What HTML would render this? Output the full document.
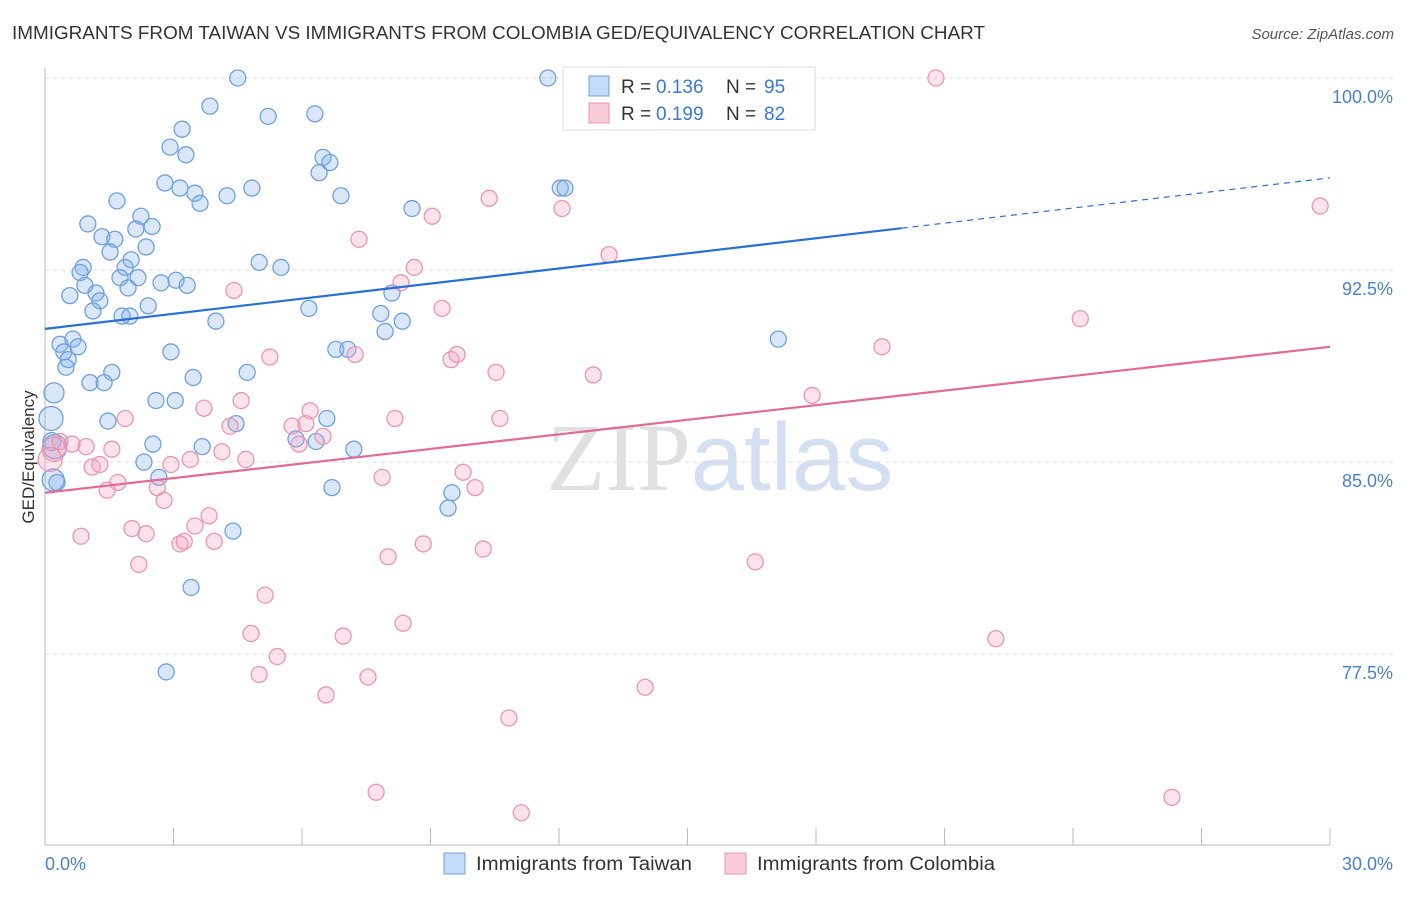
<!DOCTYPE html>
<html><head><meta charset="utf-8"><style>
body{margin:0;background:#fff;font-family:"Liberation Sans",sans-serif;}
svg text{font-family:"Liberation Sans",sans-serif;}
</style></head><body>
<svg id="chart" width="1406" height="892" xmlns="http://www.w3.org/2000/svg">
<text x="12" y="39" font-size="18" fill="#333" textLength="973" lengthAdjust="spacingAndGlyphs">IMMIGRANTS FROM TAIWAN VS IMMIGRANTS FROM COLOMBIA GED/EQUIVALENCY CORRELATION CHART</text>
<text x="1394" y="39" font-size="15" fill="#555" text-anchor="end" font-style="italic">Source: ZipAtlas.com</text>
<text x="720" y="490" font-size="96" text-anchor="middle" fill="#ddd" opacity="0.6"><tspan font-family="Liberation Serif" fill="#ccc">ZIP</tspan><tspan fill="#b8cdea">atlas</tspan></text>
<g id="grid"></g>
<g id="axes"></g>
<g id="points"></g>
<g id="lines"></g>
<text transform="translate(34,457) rotate(-90)" font-size="17" fill="#333" text-anchor="middle">GED/Equivalency</text>
<text x="45" y="870" font-size="18" fill="#4a7fd0">0.0%</text>
<text x="1393" y="870" font-size="18" fill="#4a7fd0" text-anchor="end">30.0%</text>
<g>
<rect x="563" y="67" width="252" height="63" fill="#fff" stroke="#ddd"/>
<rect x="589" y="76" width="20" height="20" fill="#c5daf5" stroke="#6fa0de"/>
<text x="621" y="93" font-size="19" fill="#333">R = </text>
<text x="656" y="93" font-size="19" fill="#3a78d4">0.136</text>
<text x="726" y="93" font-size="19" fill="#333">N = </text>
<text x="764" y="93" font-size="19" fill="#3a78d4">95</text>
<rect x="589" y="103" width="20" height="20" fill="#f9cbd9" stroke="#e996b2"/>
<text x="621" y="120" font-size="19" fill="#333">R = </text>
<text x="656" y="120" font-size="19" fill="#3a78d4">0.199</text>
<text x="726" y="120" font-size="19" fill="#333">N = </text>
<text x="764" y="120" font-size="19" fill="#3a78d4">82</text>
</g>
<g>
<rect x="444" y="853" width="21" height="21" fill="#c5daf5" stroke="#6fa0de"/>
<text x="476" y="870" font-size="19" fill="#333" textLength="216" lengthAdjust="spacingAndGlyphs">Immigrants from Taiwan</text>
<rect x="725" y="853" width="21" height="21" fill="#f9cbd9" stroke="#e996b2"/>
<text x="757" y="870" font-size="19" fill="#333" textLength="238" lengthAdjust="spacingAndGlyphs">Immigrants from Colombia</text>
</g>
</svg>
<script>
const yTicks=[100,92.5,85,77.5];
const yTickLabels=["100.0%","92.5%","85.0%","77.5%"];
const xTicks=[0,3,6,9,12,15,18,21,24,27,30];
const taiwanX=[4.5,11.74,3.85,5.21,6.3,3.2,2.92,3.29,6.49,6.65,6.4,2.8,3.15,3.5,3.62,4.25,4.83,6.91,1.68,2.24,1.0,2.12,2.5,1.33,1.63,2.36,1.52,2.01,5.0,5.51,0.89,0.82,1.87,2.17,1.75,2.71,3.06,3.32,0.93,0.58,1.19,1.28,1.94,1.12,2.41,1.8,1.98,3.99,6.16,7.84,8.1,8.34,7.94,8.57,12.03,12.14,0.35,0.65,0.77,0.44,0.54,0.49,2.94,6.79,7.07,17.12,0.21,0.14,1.56,1.05,1.38,3.46,4.72,2.59,3.04,4.46,1.47,6.58,0.16,2.52,3.67,5.86,6.33,7.21,2.31,2.66,0.28,6.7,9.5,9.41,4.39,3.41,2.83,0.23,0.19];
const taiwanY=[100,100,98.9,98.5,98.6,98.0,97.3,97.0,96.9,96.7,96.3,95.9,95.7,95.5,95.1,95.4,95.7,95.4,95.2,94.6,94.3,94.1,94.2,93.8,93.7,93.4,93.2,92.9,92.8,92.6,92.6,92.4,92.6,92.2,92.2,92.0,92.1,91.9,91.9,91.5,91.6,91.3,91.8,90.9,91.1,90.7,90.7,90.5,91.0,90.8,91.6,90.5,90.1,94.9,95.7,95.7,89.6,89.8,89.5,89.3,89.0,88.7,89.3,89.4,89.4,89.8,87.7,86.7,88.5,88.1,88.1,88.3,88.5,87.4,87.4,86.5,86.6,86.7,85.8,85.7,85.6,85.9,85.8,85.5,85.0,84.4,84.2,84.0,83.8,83.2,82.3,80.1,76.8,85.6,84.3];
const taiwanR=[8,8,8,8,8,8,8,8,8,8,8,8,8,8,8,8,8,8,8,8,8,8,8,8,8,8,8,8,8,8,8,8,8,8,8,8,8,8,8,8,8,8,8,8,8,8,8,8,8,8,8,8,8,8,8,8,8,8,8,8,8,8,8,8,8,8,10,12,8,8,8,8,8,8,8,8,8,8,9,8,8,8,8,8,8,8,8,8,8,8,8,8,8,12,11];
const colombiaX=[13.85,15.3,20.8,29.77,10.37,12.07,9.04,7.33,13.17,8.62,8.31,4.41,9.27,24.17,19.54,7.24,9.48,9.62,5.25,10.53,12.8,17.91,8.17,10.62,1.87,3.71,4.58,4.32,6.19,5.77,6.09,6.49,5.93,0.35,0.63,0.96,1.56,3.39,4.13,4.69,9.76,7.87,10.04,1.1,1.28,2.94,1.7,2.62,1.45,2.78,3.83,3.5,2.03,2.36,0.84,3.15,3.25,3.95,8.83,10.23,8.01,2.19,16.58,5.14,8.36,4.81,6.96,22.2,5.42,5.0,7.54,6.56,14.01,10.83,7.73,11.12,26.31,0.21,0.12];
const colombiaY=[100,100,100,95.0,95.3,94.9,94.6,93.7,93.1,92.6,92.0,91.7,91.0,90.6,89.5,89.2,89.0,89.2,89.1,88.5,88.4,87.6,86.7,86.7,86.7,87.1,87.4,86.4,87.0,86.4,86.5,86.0,85.7,85.8,85.7,85.6,85.5,85.1,85.4,85.1,84.6,84.4,84.0,84.8,84.9,84.9,84.2,84.0,83.9,83.5,82.9,82.5,82.4,82.2,82.1,81.8,81.9,81.9,81.8,81.6,81.3,81.0,81.1,79.8,78.7,78.3,78.2,78.1,77.4,76.7,76.6,75.9,76.2,75.0,72.1,71.3,71.9,85.5,85.1];
const taiwanTrend=[90.2,96.1];
const colombiaTrend=[83.8,89.5];
const taiwanSolidEnd=20;
const NS="http://www.w3.org/2000/svg";
const X0=45,X1=1330,Y100=78,PXPER=25.6;
function sx(v){return X0+(v/30)*(X1-X0);}
function sy(v){return Y100+(100-v)*PXPER;}
function mk(tag,attrs,parent){const e=document.createElementNS(NS,tag);for(const k in attrs)e.setAttribute(k,attrs[k]);parent.appendChild(e);return e;}
const grid=document.getElementById('grid'),axes=document.getElementById('axes'),pts=document.getElementById('points'),lines=document.getElementById('lines');
yTicks.forEach((t,i)=>{
 const l=mk('line',{x1:X0,x2:1393,y1:sy(t),y2:sy(t),stroke:'#ddd','stroke-dasharray':'4,4'},grid);
 
 
 const tx=mk('text',{x:1393,y:sy(t)+25,'font-size':18,fill:'#4a7fd0','text-anchor':'end'},grid);
 tx.textContent=yTickLabels[i];
 
 
});
const ya=mk('line',{x1:X0,x2:X0,y1:68,y2:845,stroke:'#bbb'},axes);


const xa=mk('line',{x1:X0,x2:X1,y1:845,y2:845,stroke:'#bbb'},axes);


xTicks.forEach(t=>{
 const l=mk('line',{x1:sx(t),x2:sx(t),y1:828,y2:845,stroke:'#bbb'},axes);
 
 
});
taiwanX.forEach((x,i)=>{
 const c=mk('circle',{cx:sx(x),cy:sy(taiwanY[i]),r:taiwanR[i]||8,fill:'rgba(130,175,235,0.3)',stroke:'#6fa0de','stroke-width':1.3},pts);
 
 
});
colombiaX.forEach((x,i)=>{
 const big=i>=colombiaX.length-2;
 const c=mk('circle',{cx:sx(x),cy:sy(colombiaY[i]),r:big?12:8,fill:'rgba(245,160,190,0.3)',stroke:'#e996b2','stroke-width':1.3},pts);
 
 
});
function tv(tr,x){return tr[0]+(tr[1]-tr[0])*x/30;}
const tl=mk('line',{x1:sx(0),y1:sy(tv(taiwanTrend,0)),x2:sx(taiwanSolidEnd),y2:sy(tv(taiwanTrend,taiwanSolidEnd)),stroke:'#2a6fd6','stroke-width':2.2},lines);


const td=mk('line',{x1:sx(taiwanSolidEnd),y1:sy(tv(taiwanTrend,taiwanSolidEnd)),x2:sx(30),y2:sy(tv(taiwanTrend,30)),stroke:'#2a6fd6','stroke-width':1.2,'stroke-dasharray':'6,5'},lines);


const cl=mk('line',{x1:sx(0),y1:sy(tv(colombiaTrend,0)),x2:sx(30),y2:sy(tv(colombiaTrend,30)),stroke:'#e26a96','stroke-width':2.2},lines);


</script>
</body></html>
